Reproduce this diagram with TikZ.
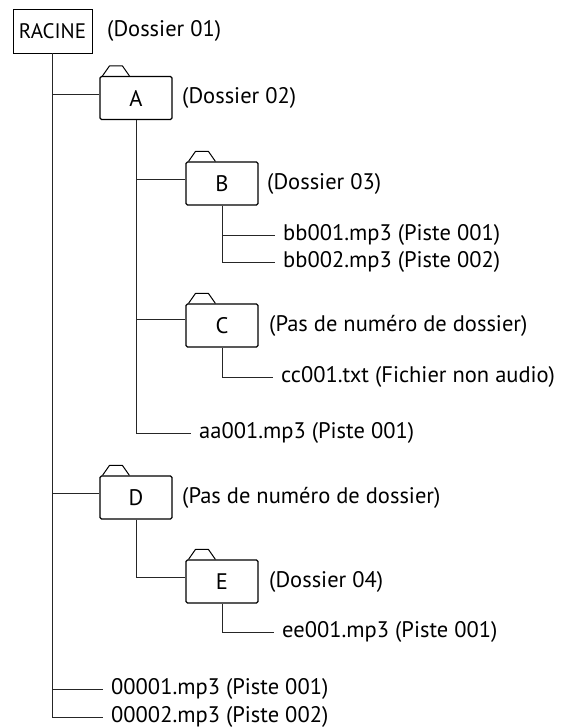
\documentclass[tikz,border=0pt]{standalone}
\usepackage{fontspec}
\setmainfont{PT Sans}
\usetikzlibrary{positioning}

\tikzset{
    folder/.style={draw, line width=1.1pt, rounded corners=1.5pt, minimum width=72pt, minimum height=43pt, inner sep=0pt},
    rootbox/.style={draw, line width=0.6pt, minimum width=79pt, minimum height=44pt, inner sep=0pt, font=\fontsize{21}{24}\selectfont},
    lbl/.style={anchor=west, inner sep=0pt},
    file/.style={anchor=west, inner xsep=8pt, inner ysep=0pt},
    branch/.style={line width=0.7pt, draw=black!85}
}

% tab on top of a folder
\newcommand{\foldertab}[1]{%
    \draw[line width=1pt, line join=round] ([xshift=3pt]#1.north west) -- ++(7,-10) -- ++(13,0) -- ++(7,10);%
}

\begin{document}
\begin{tikzpicture}[x=1pt, y=-1pt]
    \useasboundingbox (0,0) rectangle (575,728);
    \fontsize{22.5}{25}\selectfont

    % Root folder
    \node[rootbox] (root) at (52.5,31) {RACINE};
    \node[lbl] (rootlab) at (107,31) {(Dossier 01)};

    % Folders
    \node[folder] (A) at (136,98) {A};
    \node[folder] (B) at (222,183.5) {B};
    \node[folder] (C) at (222,325.5) {C};
    \node[folder] (D) at (136,497.5) {D};
    \node[folder] (E) at (222,581.5) {E};
    \foreach \f in {A,B,C,D,E}
        {\foldertab{\f}}

    % Folder numbers
    \node[lbl] (Alab) at (182,98) {(Dossier 02)};
    \node[lbl] (Blab) at (267,183.5) {(Dossier 03)};
    \node[lbl] (Clab) at (269,325.5) {(Pas de numéro de dossier)};
    \node[lbl] (Dlab) at (182,497.5) {(Pas de numéro de dossier)};
    \node[lbl] (Elab) at (269,581.5) {(Dossier 04)};

    % Files
    \node[file] (bb1) at (275,235) {bb001.mp3 (Piste 001)};
    \node[file] (bb2) at (275,262) {bb002.mp3 (Piste 002)};
    \node[file] (cc1) at (273,377) {cc001.txt (Fichier non audio)};
    \node[file] (aa1) at (191,433) {aa001.mp3 (Piste 001)};
    \node[file] (ee1) at (274,632) {ee001.mp3 (Piste 001)};
    \node[file] (r1) at (103,689) {00001.mp3 (Piste 001)};
    \node[file] (r2) at (103,717) {00002.mp3 (Piste 002)};

    % Tree lines
    \draw[branch] (root.south) |- ([yshift=4pt]A.west);
    \draw[branch] (root.south) |- ([yshift=4pt]D.west);
    \draw[branch] (root.south) |- (r1.west);
    \draw[branch] (root.south) |- (r2.west);
    \draw[branch] (A.south) |- ([yshift=4pt]B.west);
    \draw[branch] (A.south) |- ([yshift=6pt]C.west);
    \draw[branch] (A.south) |- (aa1.west);
    \draw[branch] (B.south) |- (bb1.west);
    \draw[branch] (B.south) |- (bb2.west);
    \draw[branch] (C.south) |- (cc1.west);
    \draw[branch] (D.south) |- ([yshift=4pt]E.west);
    \draw[branch] (E.south) |- (ee1.west);

\end{tikzpicture}
\end{document}
